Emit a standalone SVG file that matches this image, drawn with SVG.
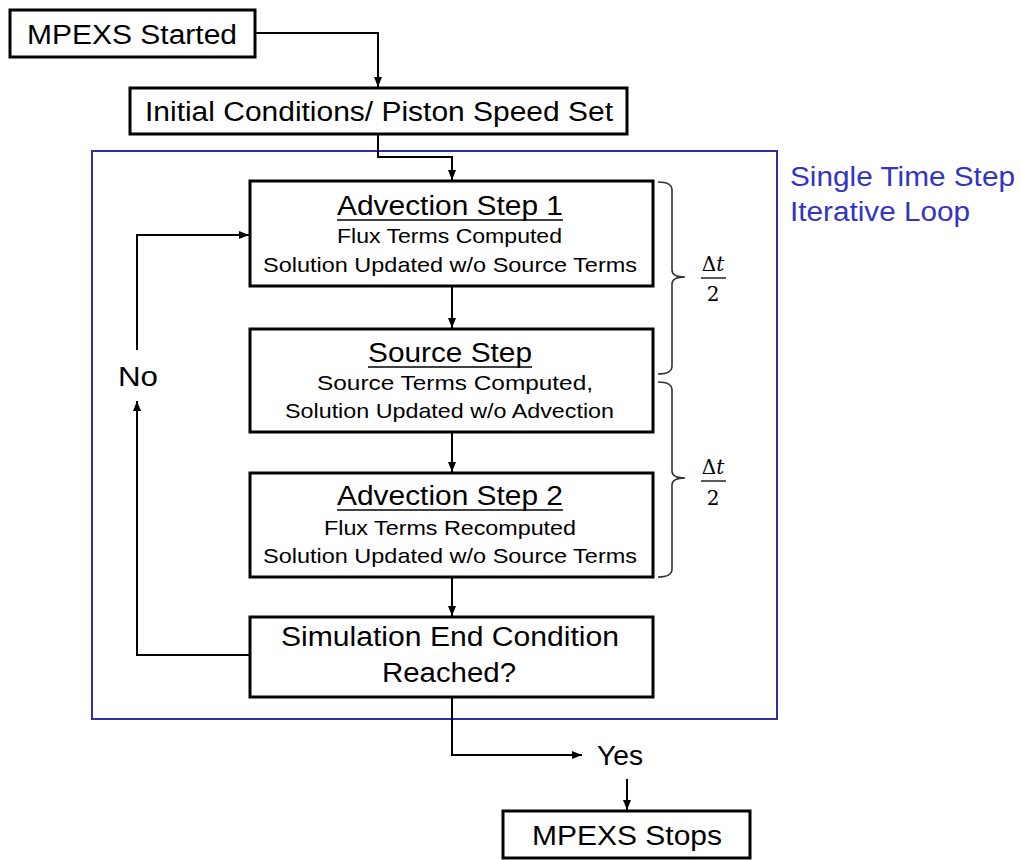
<svg xmlns="http://www.w3.org/2000/svg" width="1020" height="860" viewBox="0 0 1020 860">
  <style>
    .box { fill: #ffffff; stroke: #000000; stroke-width: 3; }
    .conn { fill: none; stroke: #000000; stroke-width: 2; }
    .brace { fill: none; stroke: #333333; stroke-width: 1.6; }
    .t { font-family: "Liberation Sans", Arial, sans-serif; fill: #000000; }
    .big { font-size: 27px; }
    .small { font-size: 21px; }
    .blue { font-family: "Liberation Sans", Arial, sans-serif; font-size: 27px; fill: #3434c4; }
    .math { font-family: "DejaVu Serif", "Liberation Serif", serif; font-size: 20px; fill: #000000; }
  </style>
  <defs>
    <marker id="arrow" markerWidth="10" markerHeight="8" refX="10" refY="4" orient="auto" markerUnits="userSpaceOnUse">
      <path d="M0,0 L10,4 L0,8 Z" fill="#000000"/>
    </marker>
  </defs>

  <rect width="1020" height="860" fill="#ffffff"/>

  <!-- loop boundary -->
  <g id="loop-frame">
    <rect x="92" y="151" width="685" height="568" fill="none" stroke="#2e2ea8" stroke-width="2"/>
    <text class="blue" x="790" y="186" textLength="225" lengthAdjust="spacingAndGlyphs">Single Time Step</text>
    <text class="blue" x="790" y="221" textLength="180" lengthAdjust="spacingAndGlyphs">Iterative Loop</text>
  </g>

  <!-- connectors -->
  <g id="connectors">
    <path class="conn" d="M255,33 H378 V87" marker-end="url(#arrow)"/>
    <path class="conn" d="M378,134 V157 H452 V180" marker-end="url(#arrow)"/>
    <path class="conn" d="M452,286 V328" marker-end="url(#arrow)"/>
    <path class="conn" d="M452,432 V472" marker-end="url(#arrow)"/>
    <path class="conn" d="M452,577 V616" marker-end="url(#arrow)"/>
    <path class="conn" d="M250,655 H137 V401" marker-end="url(#arrow)"/>
    <path class="conn" d="M137,350 V235 H249" marker-end="url(#arrow)"/>
    <path class="conn" d="M452,697 V755 H582" marker-end="url(#arrow)"/>
    <path class="conn" d="M627,779 V810" marker-end="url(#arrow)"/>
    <text class="t big" x="118" y="386" textLength="40" lengthAdjust="spacingAndGlyphs">No</text>
    <text class="t big" x="597" y="765" textLength="46" lengthAdjust="spacingAndGlyphs">Yes</text>
  </g>

  <g id="start">
    <rect class="box" x="10" y="10" width="245" height="47"/>
    <text class="t big" x="27" y="44" textLength="210" lengthAdjust="spacingAndGlyphs">MPEXS Started</text>
  </g>

  <g id="initial">
    <rect class="box" x="130" y="88" width="497" height="46"/>
    <text class="t big" x="145" y="121" textLength="468" lengthAdjust="spacingAndGlyphs">Initial Conditions/ Piston Speed Set</text>
  </g>

  <g id="advection-1">
    <rect class="box" x="250" y="181" width="403" height="105"/>
    <text class="t big" x="337" y="215" textLength="226" lengthAdjust="spacingAndGlyphs">Advection Step 1</text>
    <line x1="337" y1="220" x2="563" y2="220" stroke="#000000" stroke-width="1.6"/>
    <text class="t small" x="337" y="243" textLength="225" lengthAdjust="spacingAndGlyphs">Flux Terms Computed</text>
    <text class="t small" x="263" y="272" textLength="374" lengthAdjust="spacingAndGlyphs">Solution Updated w/o Source Terms</text>
  </g>

  <g id="source">
    <rect class="box" x="250" y="329" width="403" height="103"/>
    <text class="t big" x="368" y="362" textLength="164" lengthAdjust="spacingAndGlyphs">Source Step</text>
    <line x1="368" y1="367" x2="532" y2="367" stroke="#000000" stroke-width="1.6"/>
    <text class="t small" x="317" y="390" textLength="276" lengthAdjust="spacingAndGlyphs">Source Terms Computed,</text>
    <text class="t small" x="285" y="418" textLength="329" lengthAdjust="spacingAndGlyphs">Solution Updated w/o Advection</text>
  </g>

  <g id="advection-2">
    <rect class="box" x="250" y="473" width="403" height="104"/>
    <text class="t big" x="337" y="505" textLength="226" lengthAdjust="spacingAndGlyphs">Advection Step 2</text>
    <line x1="337" y1="510" x2="563" y2="510" stroke="#000000" stroke-width="1.6"/>
    <text class="t small" x="324" y="535" textLength="252" lengthAdjust="spacingAndGlyphs">Flux Terms Recomputed</text>
    <text class="t small" x="263" y="563" textLength="374" lengthAdjust="spacingAndGlyphs">Solution Updated w/o Source Terms</text>
  </g>

  <g id="end-check">
    <rect class="box" x="250" y="617" width="403" height="80"/>
    <text class="t big" x="281" y="646" textLength="338" lengthAdjust="spacingAndGlyphs">Simulation End Condition</text>
    <text class="t big" x="382" y="682" textLength="134" lengthAdjust="spacingAndGlyphs">Reached?</text>
  </g>

  <g id="stop">
    <rect class="box" x="503" y="811" width="247" height="47"/>
    <text class="t big" x="532" y="845" textLength="190" lengthAdjust="spacingAndGlyphs">MPEXS Stops</text>
  </g>

  <!-- half time step braces -->
  <g id="half-step-1">
    <path class="brace" d="M658,182 Q672,182 672,190 V270 Q672,277 685,277 Q672,277 672,284 V366 Q672,374 658,374"/>
    <text class="math" x="713" y="271" text-anchor="middle">Δ<tspan font-style="italic">t</tspan></text>
    <line x1="701" y1="278" x2="726" y2="278" stroke="#000000" stroke-width="1.3"/>
    <text class="math" x="713" y="301" text-anchor="middle">2</text>
  </g>
  <g id="half-step-2">
    <path class="brace" d="M658,382 Q672,382 672,390 V471 Q672,478 685,478 Q672,478 672,485 V569 Q672,577 658,577"/>
    <text class="math" x="713" y="474" text-anchor="middle">Δ<tspan font-style="italic">t</tspan></text>
    <line x1="701" y1="481" x2="726" y2="481" stroke="#000000" stroke-width="1.3"/>
    <text class="math" x="713" y="505" text-anchor="middle">2</text>
  </g>
</svg>
